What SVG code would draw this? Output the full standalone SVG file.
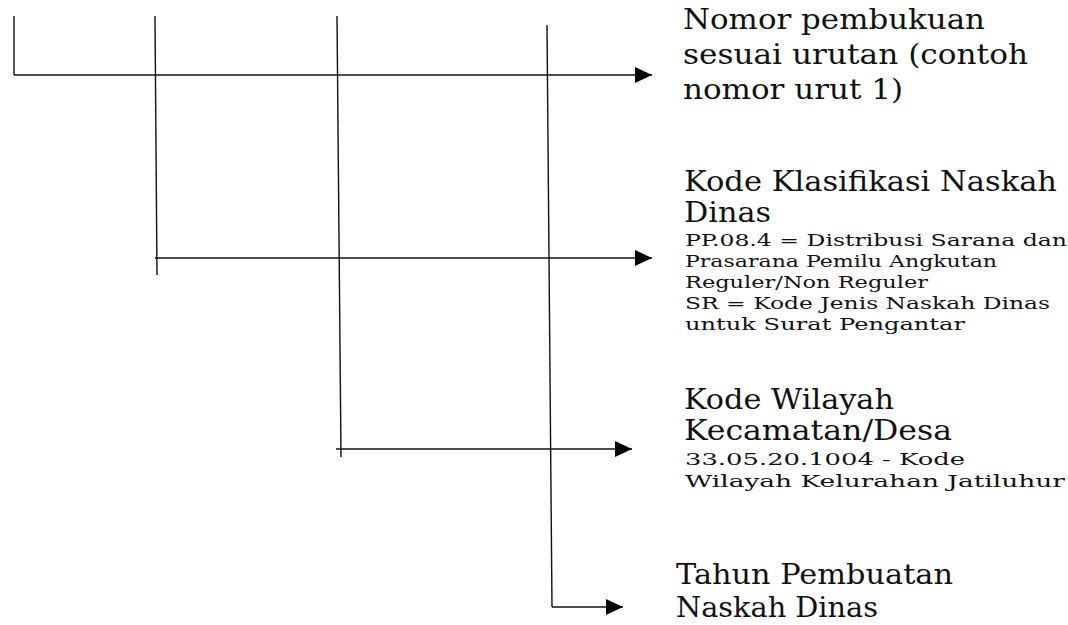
<svg xmlns="http://www.w3.org/2000/svg" width="1068" height="625" viewBox="0 0 1068 625">
  <style>
    .ln { stroke: #111; stroke-width: 1.4; fill: none; }
    .arr { marker-end: url(#head); }
    .big { font-family: "DejaVu Serif", "Liberation Serif", serif; font-size: 27px; fill: #111; }
    .small { font-family: "DejaVu Serif", "Liberation Serif", serif; font-size: 17.5px; fill: #111; }
  </style>
  <defs>
    <marker id="head" markerUnits="userSpaceOnUse" markerWidth="18" markerHeight="18" refX="17" refY="8" orient="auto">
      <path d="M0,0 L17,8 L0,16 Z" fill="#000"/>
    </marker>
  </defs>
  <rect width="1068" height="625" fill="#fff"/>

  <!-- connectors -->
  <g id="connectors">
    <path class="ln" d="M14,16 L14,75"/>
    <path class="ln arr" d="M14,75 L652,75"/>
    <path class="ln" d="M155,16 L157,275"/>
    <path class="ln arr" d="M155,258 L652,258"/>
    <path class="ln" d="M337,16 L341,457"/>
    <path class="ln arr" d="M336,449 L632,449"/>
    <path class="ln" d="M547,25 L552,607"/>
    <path class="ln arr" d="M552,607 L623,607"/>
  </g>

  <!-- labels -->
  <g id="nomor-urut">
    <text class="big" x="683" y="29" textLength="302" lengthAdjust="spacingAndGlyphs">Nomor pembukuan</text>
    <text class="big" x="683" y="64" textLength="345" lengthAdjust="spacingAndGlyphs">sesuai urutan (contoh</text>
    <text class="big" x="683" y="99" textLength="220" lengthAdjust="spacingAndGlyphs">nomor urut 1)</text>
  </g>

  <g id="kode-klasifikasi">
    <text class="big" x="684" y="191" textLength="373" lengthAdjust="spacingAndGlyphs">Kode Klasifikasi Naskah</text>
    <text class="big" x="684" y="222" textLength="87" lengthAdjust="spacingAndGlyphs">Dinas</text>
    <text class="small" x="685" y="246" textLength="382" lengthAdjust="spacingAndGlyphs">PP.08.4 = Distribusi Sarana dan</text>
    <text class="small" x="685" y="267" textLength="312" lengthAdjust="spacingAndGlyphs">Prasarana Pemilu Angkutan</text>
    <text class="small" x="685" y="288" textLength="243" lengthAdjust="spacingAndGlyphs">Reguler/Non Reguler</text>
    <text class="small" x="685" y="309" textLength="365" lengthAdjust="spacingAndGlyphs">SR = Kode Jenis Naskah Dinas</text>
    <text class="small" x="685" y="330" textLength="280" lengthAdjust="spacingAndGlyphs">untuk Surat Pengantar</text>
  </g>

  <g id="kode-wilayah">
    <text class="big" x="684" y="409" textLength="210" lengthAdjust="spacingAndGlyphs">Kode Wilayah</text>
    <text class="big" x="684" y="440" textLength="268" lengthAdjust="spacingAndGlyphs">Kecamatan/Desa</text>
    <text class="small" x="685" y="465" textLength="280" lengthAdjust="spacingAndGlyphs">33.05.20.1004 - Kode</text>
    <text class="small" x="685" y="487" textLength="380" lengthAdjust="spacingAndGlyphs">Wilayah Kelurahan Jatiluhur</text>
  </g>

  <g id="tahun">
    <text class="big" x="676" y="584" textLength="277" lengthAdjust="spacingAndGlyphs">Tahun Pembuatan</text>
    <text class="big" x="676" y="617" textLength="202" lengthAdjust="spacingAndGlyphs">Naskah Dinas</text>
  </g>
</svg>
